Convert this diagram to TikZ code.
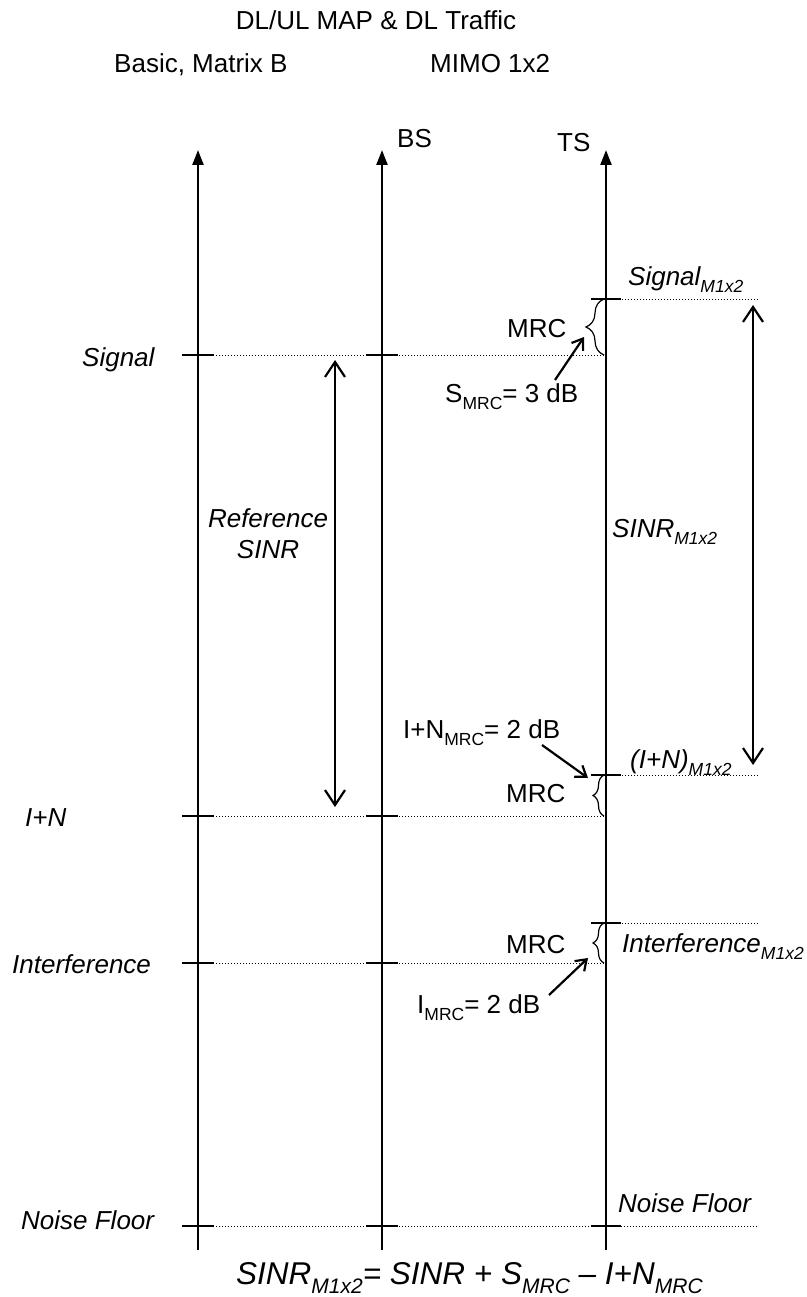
\documentclass[tikz,border=0pt]{standalone}
\usepackage{fontspec}
\setmainfont{Liberation Sans}
\usetikzlibrary{arrows.meta, positioning, calc, decorations.pathreplacing}
\newcommand{\lbltext}{\fontsize{26}{31}\selectfont}
\newcommand{\lowsub}[1]{\raisebox{-0.3em}{\fontsize{17.5}{18}\selectfont #1}}
\newcommand{\bigsub}[1]{\raisebox{-0.3em}{\fontsize{21}{22}\selectfont #1}}
\tikzset{
  axisline/.style={line width=2.4pt, -{Triangle[length=15pt, width=11pt]}},
  tickmark/.style={line width=1.6pt},
  levelline/.style={line width=1pt, dash pattern=on 1pt off 2pt},
  bigbrace/.style={line width=1.2pt, decorate, decoration={brace, amplitude=18pt}},
  smallbrace/.style={line width=1.2pt, decorate, decoration={brace, amplitude=11pt}},
  spanarrow/.style={line width=2.2pt, {Straight Barb[length=15pt, width=20pt]}-{Straight Barb[length=15pt, width=20pt]}},
  gainarrow/.style={line width=2.2pt, -{Straight Barb[length=10pt, width=14pt]}},
  lvl/.style={anchor=base west, font=\lbltext\itshape},
  txt/.style={anchor=base west, font=\lbltext}
}

\begin{document}
\begin{tikzpicture}[x=1pt, y=-1pt, every node/.style={inner sep=0pt}]
    \useasboundingbox (0,0) rectangle (806,1297);

    % headings
    \node[txt, anchor=base] (title) at (376,30) {DL/UL MAP \& DL Traffic};
    \node[txt] (basic) at (114,73) {Basic, Matrix B};
    \node[txt] (mimo) at (430,73) {MIMO 1x2};
    \node[txt] (bs) at (397,148) {BS};
    \node[txt] (ts) at (557,152) {TS};

    % the three axes
    \foreach \ax/\x in {refx/198, bsx/382, tsx/606} {
        \coordinate (\ax bot) at (\x,1250);
        \coordinate (\ax top) at (\x,150);
    }
    \draw[axisline] (refxbot) -- (refxtop);
    \draw[axisline] (bsxbot) -- (bsxtop);
    \draw[axisline] (tsxbot) -- (tsxtop);

    % reference levels, up to the TS axis
    \foreach \lv/\y in {sig/355, inn/816, intf/963} {
        \coordinate (\lv L) at (198,\y);
        \coordinate (\lv R) at (604,\y);
    }
    % MIMO levels, right of the TS axis
    \foreach \lv/\y in {sigm/299, innm/775, intfm/923} {
        \coordinate (\lv L) at (604,\y);
        \coordinate (\lv R) at (758,\y);
    }
    \coordinate (nfL) at (198,1226);
    \coordinate (nfR) at (758,1226);

    \draw[levelline] (sigL) -- (sigR);
    \draw[levelline] (innL) -- (innR);
    \draw[levelline] (intfL) -- (intfR);
    \draw[levelline] (sigmL) -- (sigmR);
    \draw[levelline] (innmL) -- (innmR);
    \draw[levelline] (intfmL) -- (intfmR);
    \draw[levelline] (nfL) -- (nfR);

    \foreach \x in {198,382}
        \foreach \y in {355,816,963,1226}
            \draw[tickmark] (\x-16,\y) -- (\x+16,\y);
    \foreach \y in {299,775,923,1226}
        \draw[tickmark] (606-15,\y) -- (606+15,\y);

    % MRC gains
    \draw[bigbrace] (sigR) -- (sigmL);
    \draw[smallbrace] (innR) -- (innmL);
    \draw[smallbrace] (intfR) -- (intfmL);

    % level names
    \node[lvl] (sigLbl) at (82,366) {Signal};
    \node[lvl] (innLbl) at (25,826) {I+N};
    \node[lvl] (intfLbl) at (12,973) {Interference};
    \node[lvl] (nfLbl) at (21,1229) {Noise Floor};
    \node[lvl] (sigmLbl) at (628,285) {Signal\lowsub{M1x2}};
    \node[lvl] (innmLbl) at (630,768) {(I+N)\lowsub{M1x2}};
    \node[lvl] (intfmLbl) at (622,952) {Interference\lowsub{M1x2}};
    \node[lvl] (nfmLbl) at (618,1212) {Noise Floor};

    % SINR spans
    \coordinate (refTop) at (335,360);
    \coordinate (refBot) at (335,807);
    \draw[spanarrow] (refTop) -- (refBot);
    \node[lvl, anchor=base] (refLbl) at (268,527) {Reference};
    \node[lvl, anchor=base] (refSinr) at (268,558) {SINR};
    \coordinate (mimoTop) at (753,305);
    \coordinate (mimoBot) at (753,765);
    \draw[spanarrow] (mimoTop) -- (mimoBot);
    \node[lvl] (mimoLbl) at (612,537) {SINR\lowsub{M1x2}};

    % MRC labels and gains
    \node[txt] (mrcS) at (507,337) {MRC};
    \node[txt] (mrcN) at (506,802) {MRC};
    \node[txt] (mrcI) at (506,953) {MRC};
    \node[txt] (gainS) at (445,402) {S\lowsub{MRC}= 3 dB};
    \node[txt] (gainN) at (403,738) {I+N\lowsub{MRC}= 2 dB};
    \node[txt] (gainI) at (417,1013) {I\lowsub{MRC}= 2 dB};

    \coordinate (gainSfrom) at (555,380);
    \coordinate (gainSto) at (584,337);
    \coordinate (gainNfrom) at (542,745);
    \coordinate (gainNto) at (588,778);
    \coordinate (gainIfrom) at (549,995);
    \coordinate (gainIto) at (588,958);
    \draw[gainarrow] (gainSfrom) -- (gainSto);
    \draw[gainarrow] (gainNfrom) -- (gainNto);
    \draw[gainarrow] (gainIfrom) -- (gainIto);

    \node[anchor=base west, font=\fontsize{31.5}{37}\selectfont\itshape] (formula) at (236,1284)
        {SINR\bigsub{M1x2}= SINR + S\bigsub{MRC} -- I+N\bigsub{MRC}};
\end{tikzpicture}
\end{document}
